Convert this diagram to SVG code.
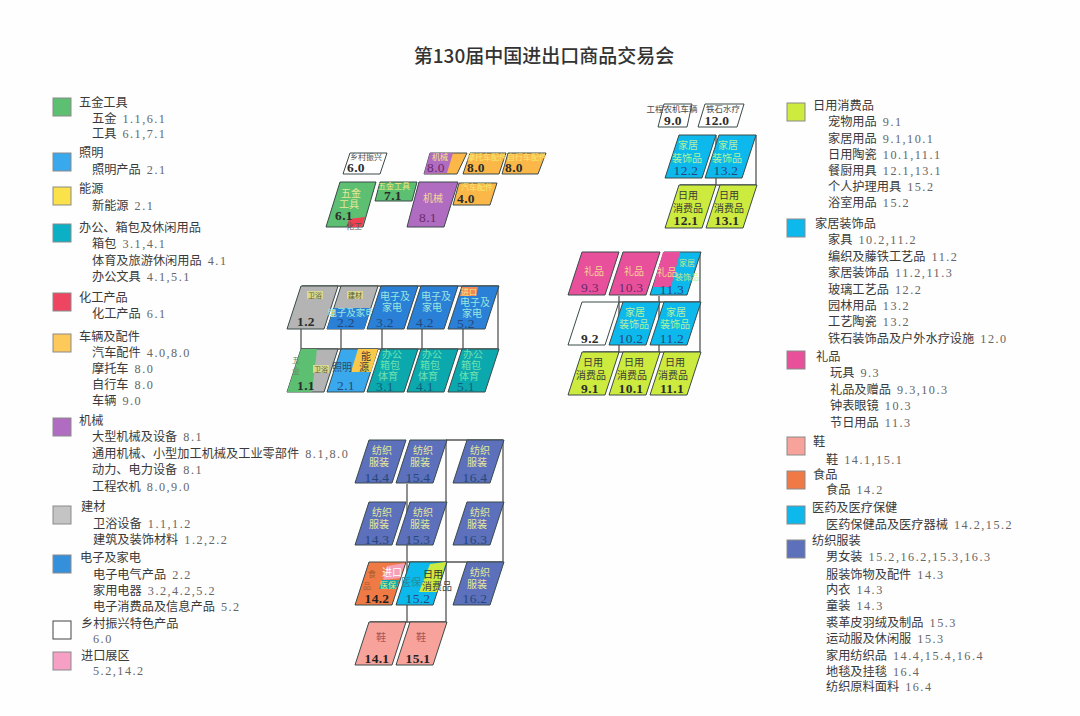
<svg xmlns="http://www.w3.org/2000/svg" width="1080" height="716" viewBox="0 0 1080 716">
<style>
text{font-family:"Liberation Serif","Noto Sans CJK SC",serif;fill:#3c3c3c}
.t{font-size:12.2px;fill:#3a3a3a;word-spacing:3px}
.t tspan{letter-spacing:1.5px;fill:#666}
.h{font-size:12.2px;fill:#3a3a3a}
.n{font-size:13.5px;font-weight:700;text-anchor:middle;fill:#2c2c2c;letter-spacing:.3px}
.b{font-weight:400;fill:#24487a}
.bt{font-weight:400;fill:#0e5f7c}
.bp{font-weight:400;fill:#6a2a6c}
.l{font-size:10px;text-anchor:middle;font-family:"Noto Sans CJK SC",sans-serif;fill:#e4ea98}
.lb{fill:#9be6e0}
.lt{fill:#6fe2ae}
.lc{fill:#b4f0a0}
.s{font-size:8px;text-anchor:middle;font-family:"Noto Sans CJK SC",sans-serif;fill:#f5e878}
.k{font-size:10px;text-anchor:middle;font-family:"Noto Sans CJK SC",sans-serif;fill:#3a3a3a}
.m{font-size:8.5px;text-anchor:middle;font-family:"Noto Sans CJK SC",sans-serif;fill:#4a4a4a}
.c7{font-size:7px;text-anchor:middle;font-family:"Noto Sans CJK SC",sans-serif;fill:#5a5a30}
.sw{stroke:#8a8a8a;stroke-width:1}
.p{stroke:#3a4a4a;stroke-width:1}
.c{fill:none;stroke:#555;stroke-width:1.3}
.green{fill:#5cbf72}.gray{fill:#b4b4b4}.blue{fill:#2a7fd6}.teal{fill:#0ba8ae}.lblue{fill:#3aa8ec}.pur{fill:#b06cc0}.org{fill:#fbb848}.wht{fill:#fff}.cyan{fill:#0cb8ec}.pink{fill:#e8509c}.lime{fill:#cdea3f}.tex{fill:#5d70bb}.sal{fill:#f7a39b}.dor{fill:#f07a45}
</style>
<defs>
<polygon id="pg" points="14,0 51,0 37,43 0,43"/>
</defs>
<rect width="1080" height="716" fill="#fefefe"/>
<text x="544" y="63" font-size="19" text-anchor="middle" font-weight="500" style="font-family:'Noto Sans CJK SC',sans-serif;fill:#333">第130届中国进出口商品交易会</text>

<g id="legend-left">
<g id="leg-wujin"><rect x="53" y="98" width="18" height="18" class="green sw"/><text x="79" y="107" class="h">五金工具</text><text x="92" y="123" class="t">五金 <tspan>1.1,6.1</tspan></text><text x="92" y="138" class="t">工具 <tspan>6.1,7.1</tspan></text></g>
<g id="leg-zhaoming"><rect x="53" y="153" width="18" height="18" class="lblue sw"/><text x="79" y="157" class="h">照明</text><text x="92" y="174" class="t">照明产品 <tspan>2.1</tspan></text></g>
<g id="leg-nengyuan"><rect x="53" y="187" width="18" height="18" fill="#fbe14a" class="sw"/><text x="79" y="193" class="h">能源</text><text x="92" y="210" class="t">新能源 <tspan>2.1</tspan></text></g>
<g id="leg-bangong"><rect x="53" y="224" width="18" height="18" class="sw" fill="#0bb0c4"/><text x="79" y="232" class="h">办公、箱包及休闲用品</text><text x="92" y="248" class="t">箱包 <tspan>3.1,4.1</tspan></text><text x="92" y="265" class="t">体育及旅游休闲用品 <tspan>4.1</tspan></text><text x="92" y="281" class="t">办公文具 <tspan>4.1,5.1</tspan></text></g>
<g id="leg-huagong"><rect x="53" y="293" width="18" height="18" class="sw" fill="#ee4560"/><text x="79" y="302" class="h">化工产品</text><text x="92" y="318" class="t">化工产品 <tspan>6.1</tspan></text></g>
<g id="leg-cheliang"><rect x="53" y="334" width="18" height="18" class="sw" fill="#fdc95a"/><text x="79" y="341" class="h">车辆及配件</text><text x="92" y="357" class="t">汽车配件 <tspan>4.0,8.0</tspan></text><text x="92" y="373" class="t">摩托车 <tspan>8.0</tspan></text><text x="92" y="389" class="t">自行车 <tspan>8.0</tspan></text><text x="92" y="405" class="t">车辆 <tspan>9.0</tspan></text></g>
<g id="leg-jixie"><rect x="53" y="418" width="18" height="18" class="pur sw"/><text x="79" y="425" class="h">机械</text><text x="92" y="441" class="t">大型机械及设备 <tspan>8.1</tspan></text><text x="92" y="458" class="t">通用机械、小型加工机械及工业零部件 <tspan>8.1,8.0</tspan></text><text x="92" y="474" class="t">动力、电力设备 <tspan>8.1</tspan></text><text x="92" y="491" class="t">工程农机 <tspan>8.0,9.0</tspan></text></g>
<g id="leg-jiancai"><rect x="53" y="506" width="18" height="18" fill="#c4c4c4" class="sw"/><text x="81" y="511" class="h">建材</text><text x="93" y="528" class="t">卫浴设备 <tspan>1.1,1.2</tspan></text><text x="93" y="544" class="t">建筑及装饰材料 <tspan>1.2,2.2</tspan></text></g>
<g id="leg-dianzi"><rect x="53" y="555" width="18" height="18" class="sw" fill="#3590dc"/><text x="80" y="562" class="h">电子及家电</text><text x="93" y="579" class="t">电子电气产品 <tspan>2.2</tspan></text><text x="93" y="595" class="t">家用电器 <tspan>3.2,4.2,5.2</tspan></text><text x="93" y="611" class="t">电子消费品及信息产品 <tspan>5.2</tspan></text></g>
<g id="leg-xiangcun"><rect x="53" y="621" width="18" height="18" fill="#fff" stroke="#444"/><text x="81" y="628" class="h">乡村振兴特色产品</text><text x="93" y="643" class="t"><tspan>6.0</tspan></text></g>
<g id="leg-jinkou"><rect x="53" y="652" width="18" height="18" class="sw" fill="#f5a0c4"/><text x="81" y="660" class="h">进口展区</text><text x="93" y="675" class="t"><tspan>5.2,14.2</tspan></text></g>
</g>

<g id="legend-right">
<g id="leg-riyong"><rect x="787" y="103" width="18" height="18" class="lime sw"/><text x="813" y="110" class="h">日用消费品</text><text x="828" y="126" class="t">宠物用品 <tspan>9.1</tspan></text><text x="828" y="143" class="t">家居用品 <tspan>9.1,10.1</tspan></text><text x="828" y="159" class="t">日用陶瓷 <tspan>10.1,11.1</tspan></text><text x="828" y="175" class="t">餐厨用具 <tspan>12.1,13.1</tspan></text><text x="828" y="191" class="t">个人护理用具 <tspan>15.2</tspan></text><text x="828" y="207" class="t">浴室用品 <tspan>15.2</tspan></text></g>
<g id="leg-jiaju"><rect x="787" y="219" width="18" height="18" class="cyan sw"/><text x="815" y="228" class="h">家居装饰品</text><text x="828" y="244" class="t">家具 <tspan>10.2,11.2</tspan></text><text x="828" y="261" class="t">编织及藤铁工艺品 <tspan>11.2</tspan></text><text x="828" y="277" class="t">家居装饰品 <tspan>11.2,11.3</tspan></text><text x="828" y="294" class="t">玻璃工艺品 <tspan>12.2</tspan></text><text x="828" y="310" class="t">园林用品 <tspan>13.2</tspan></text><text x="828" y="326" class="t">工艺陶瓷 <tspan>13.2</tspan></text><text x="828" y="343" class="t">铁石装饰品及户外水疗设施 <tspan>12.0</tspan></text></g>
<g id="leg-lipin"><rect x="787" y="351" width="18" height="18" class="pink sw"/><text x="816" y="361" class="h">礼品</text><text x="830" y="377" class="t">玩具 <tspan>9.3</tspan></text><text x="830" y="394" class="t">礼品及赠品 <tspan>9.3,10.3</tspan></text><text x="830" y="410" class="t">钟表眼镜 <tspan>10.3</tspan></text><text x="830" y="427" class="t">节日用品 <tspan>11.3</tspan></text></g>
<g id="leg-xie"><rect x="787" y="437" width="18" height="18" class="sal sw"/><text x="813" y="446" class="h">鞋</text><text x="826" y="464" class="t">鞋 <tspan>14.1,15.1</tspan></text></g>
<g id="leg-shipin"><rect x="787" y="471" width="18" height="18" class="dor sw"/><text x="813" y="479" class="h">食品</text><text x="826" y="494" class="t">食品 <tspan>14.2</tspan></text></g>
<g id="leg-yiyao"><rect x="787" y="506" width="18" height="18" class="cyan sw"/><text x="812" y="512" class="h">医药及医疗保健</text><text x="826" y="529" class="t">医药保健品及医疗器械 <tspan>14.2,15.2</tspan></text></g>
<g id="leg-fangzhi"><rect x="787" y="540" width="18" height="18" class="tex sw"/><text x="812" y="545" class="h">纺织服装</text><text x="826" y="561" class="t">男女装 <tspan>15.2,16.2,15.3,16.3</tspan></text><text x="826" y="579" class="t">服装饰物及配件 <tspan>14.3</tspan></text><text x="826" y="594" class="t">内衣 <tspan>14.3</tspan></text><text x="826" y="610" class="t">童装 <tspan>14.3</tspan></text><text x="826" y="627" class="t">裘革皮羽绒及制品 <tspan>15.3</tspan></text><text x="826" y="643" class="t">运动服及休闲服 <tspan>15.3</tspan></text><text x="826" y="660" class="t">家用纺织品 <tspan>14.4,15.4,16.4</tspan></text><text x="826" y="676" class="t">地毯及挂毯 <tspan>16.4</tspan></text><text x="826" y="691" class="t">纺织原料面料 <tspan>16.4</tspan></text></g>
</g>

<g id="connectors" class="c">
<path d="M302 286H498V349M301 329V349M341 329V349M382 329V349M422 329V349M463 329V349M301 349H498"/>
<path d="M407 484V622M446 440V622M503 440V562M446 440H503M407 562H503M370 622H446"/>
<path d="M619 296V352M659 296V352M700 252V352M619 302H700M583 352H700"/>
<path d="M716 135V185M756 135V185M680 185H756"/>
</g>

<g id="node-6-0"><polygon points="350,153 387,153 380,174 343,174" class="wht p"/><text x="366" y="160" class="m" style="font-size:8px">乡村振兴</text><text x="356" y="172" class="n">6.0</text></g>
<g id="node-8-0a"><polygon points="430,153 467,153 457,174 424,174" class="org p"/><polygon points="430,153 453,153 447,173 424,174" class="pur"/><text x="440" y="160" class="s">机械</text><text x="436" y="172" class="n bp">8.0</text></g>
<g id="node-8-0b"><polygon points="470,153 506,153 499,174 463,174" class="org p"/><text x="487" y="160" class="s">摩托车配件</text><text x="476" y="172" class="n">8.0</text></g>
<g id="node-8-0c"><polygon points="508,153 546,153 538,174 502,174" class="org p"/><text x="527" y="160" class="s">自行车配件</text><text x="514" y="172" class="n">8.0</text></g>
<g id="node-6-1"><polygon points="340,182 376,182 363,227 326,227" class="green p"/><polygon points="349,219 365,217 362,227 347,227" fill="#ee4050"/><text x="351" y="197" class="l">五金</text><text x="349" y="208" class="l">工具</text><text x="344" y="220" class="n">6.1</text><text x="354" y="229" class="s" style="fill:#555">化工</text></g>
<g id="node-7-1"><polygon points="380,182 417,182 412,201 375,201" class="green p"/><text x="394" y="189" class="s">五金工具</text><text x="393" y="200" class="n">7.1</text></g>
<g id="node-8-1"><polygon points="419,182 458,182 444,227 407,227" class="pur p"/><text x="433" y="202" class="l" style="fill:#f3d89a">机械</text><text x="428" y="222" class="n bp">8.1</text></g>
<g id="node-4-0"><polygon points="459,183 497,183 490,205 453,205" class="org p"/><text x="477" y="190" class="s">汽车配件</text><text x="466" y="203" class="n">4.0</text></g>

<g id="node-1-2"><use href="#pg" x="287" y="286" class="gray p"/><rect x="307" y="291" width="16" height="8" fill="#d8d890"/><text x="315" y="298" class="c7">卫浴</text><text x="306" y="326" class="n">1.2</text></g>
<g id="node-2-2"><use href="#pg" x="327" y="286" class="gray p"/><polygon points="334,308 371,308 364,329 327,329" class="blue"/><rect x="347" y="291" width="16" height="8" fill="#d8d890"/><text x="355" y="298" class="c7">建材</text><polygon points="332,310 335,310 334,317 331,317" class="org"/><text x="351" y="316" class="l lb" style="font-size:9.5px">电子及家电</text><text x="346" y="327" class="n b">2.2</text></g>
<g id="node-3-2"><use href="#pg" x="367" y="286" class="blue p"/><text x="395" y="300" class="l lb">电子及</text><text x="392" y="311" class="l lb">家电</text><text x="385" y="327" class="n b">3.2</text></g>
<g id="node-4-2"><use href="#pg" x="407" y="286" class="blue p"/><text x="436" y="300" class="l lb">电子及</text><text x="432" y="311" class="l lb">家电</text><text x="425" y="327" class="n b">4.2</text></g>
<g id="node-5-2"><use href="#pg" x="448" y="286" class="blue p"/><polygon points="462,287 478,287 476,296 460,296" fill="#f08858"/><text x="469" y="295" class="s">进口</text><text x="475" y="306" class="l lb">电子及</text><text x="472" y="317" class="l lb">家电</text><text x="466" y="328" class="n b">5.2</text></g>
<g id="node-1-1"><use href="#pg" x="287" y="349" class="gray p"/><polygon points="301,349 317,349 312,392 287,392" class="green"/><rect x="313" y="365" width="16" height="8" fill="#d8d890"/><text x="321" y="372" class="c7">卫浴</text><text x="296" y="363" class="s" style="fill:#6a8a6a">五</text><text x="296" y="374" class="s" style="fill:#6a8a6a">金</text><text x="306" y="390" class="n">1.1</text></g>
<g id="node-2-1"><use href="#pg" x="327" y="349" class="lblue p"/><polygon points="358,349 378,349 371,372 351,372" fill="#fbc94a"/><text x="342" y="371" class="l" style="fill:#2a4a6a">照明</text><text x="366" y="360" class="k">能</text><text x="364" y="371" class="k">源</text><text x="346" y="390" class="n b">2.1</text></g>
<g id="node-3-1"><use href="#pg" x="367" y="349" class="teal p"/><text x="392" y="358" class="l lt">办公</text><text x="390" y="369" class="l lt">箱包</text><text x="388" y="380" class="l lt">体育</text><text x="385" y="391" class="n bt">3.1</text></g>
<g id="node-4-1"><use href="#pg" x="407" y="349" class="teal p"/><text x="432" y="358" class="l lt">办公</text><text x="430" y="369" class="l lt">箱包</text><text x="428" y="380" class="l lt">体育</text><text x="425" y="391" class="n bt">4.1</text></g>
<g id="node-5-1"><use href="#pg" x="448" y="349" class="teal p"/><text x="473" y="358" class="l lt">办公</text><text x="471" y="369" class="l lt">箱包</text><text x="469" y="380" class="l lt">体育</text><text x="466" y="391" class="n bt">5.1</text></g>

<g id="node-14-4"><use href="#pg" x="355" y="440" class="tex p"/><text x="382" y="454" class="l">纺织</text><text x="379" y="466" class="l">服装</text><text x="377" y="482" class="n b">14.4</text></g>
<g id="node-15-4"><use href="#pg" x="396" y="440" class="tex p"/><text x="423" y="454" class="l">纺织</text><text x="420" y="466" class="l">服装</text><text x="418" y="482" class="n b">15.4</text></g>
<g id="node-16-4"><use href="#pg" x="453" y="440" class="tex p"/><text x="480" y="454" class="l">纺织</text><text x="477" y="466" class="l">服装</text><text x="475" y="482" class="n b">16.4</text></g>
<g id="node-14-3"><use href="#pg" x="355" y="502" class="tex p"/><text x="382" y="516" class="l">纺织</text><text x="379" y="528" class="l">服装</text><text x="377" y="544" class="n b">14.3</text></g>
<g id="node-15-3"><use href="#pg" x="396" y="502" class="tex p"/><text x="423" y="516" class="l">纺织</text><text x="420" y="528" class="l">服装</text><text x="418" y="544" class="n b">15.3</text></g>
<g id="node-16-3"><use href="#pg" x="453" y="502" class="tex p"/><text x="480" y="516" class="l">纺织</text><text x="477" y="528" class="l">服装</text><text x="475" y="544" class="n b">16.3</text></g>
<g id="node-14-2"><use href="#pg" x="355" y="562" class="dor p"/><polygon points="387,566 405,563 400,578 383,580" fill="#f5a0b8"/><polygon points="382,580 399,580 396,589 379,589" class="teal"/><text x="392" y="576" class="l" style="fill:#fff">进口</text><text x="388" y="588" class="s">医保</text><text x="372" y="577" class="s" style="fill:#a85a2a">食</text><text x="367" y="589" class="s" style="fill:#a85a2a">品</text><text x="377" y="603" class="n" style="fill:#222">14.2</text></g>
<g id="node-15-2"><use href="#pg" x="396" y="562" class="cyan p"/><polygon points="430,564 446,562 437,592 419,592" class="lime"/><text x="411" y="586" class="l" style="fill:#2a8a9a">医保</text><text x="433" y="578" class="l" style="fill:#333">日用</text><text x="437" y="590" class="l" style="fill:#444">消费品</text><text x="418" y="603" class="n b">15.2</text></g>
<g id="node-16-2"><use href="#pg" x="453" y="562" class="tex p"/><text x="480" y="576" class="l">纺织</text><text x="477" y="588" class="l">服装</text><text x="475" y="603" class="n b">16.2</text></g>
<g id="node-14-1"><use href="#pg" x="355" y="622" class="sal p"/><text x="381" y="641" class="k" style="fill:#a55">鞋</text><text x="377" y="663" class="n" style="fill:#222">14.1</text></g>
<g id="node-15-1"><use href="#pg" x="396" y="622" class="sal p"/><text x="421" y="641" class="k" style="fill:#a55">鞋</text><text x="418" y="663" class="n" style="fill:#222">15.1</text></g>

<g id="node-9-3"><use href="#pg" x="568" y="252" class="pink p"/><text x="594" y="275" class="l" style="fill:#f5d590">礼品</text><text x="590" y="292" class="n bp">9.3</text></g>
<g id="node-10-3"><use href="#pg" x="609" y="252" class="pink p"/><text x="634" y="275" class="l" style="fill:#f5d590">礼品</text><text x="631" y="292" class="n bp">10.3</text></g>
<g id="node-11-3"><use href="#pg" x="650" y="252" class="cyan p"/><polygon points="663,252 680,252 671,287 653,287" class="pink"/><text x="667" y="276" class="l" style="fill:#f5d590">礼品</text><text x="687" y="266" class="s" style="fill:#c8ee80">家居</text><text x="687" y="280" class="s" style="fill:#c8ee80">装饰品</text><text x="672" y="294" class="n b">11.3</text></g>
<g id="node-9-2"><use href="#pg" x="568" y="302" class="wht p"/><text x="590" y="343" class="n">9.2</text></g>
<g id="node-10-2"><use href="#pg" x="609" y="302" class="cyan p"/><text x="635" y="316" class="l lc">家居</text><text x="634" y="328" class="l lc">装饰品</text><text x="631" y="343" class="n b">10.2</text></g>
<g id="node-11-2"><use href="#pg" x="650" y="302" class="cyan p"/><text x="676" y="316" class="l lc">家居</text><text x="675" y="328" class="l lc">装饰品</text><text x="672" y="343" class="n b">11.2</text></g>
<g id="node-9-1"><use href="#pg" x="568" y="352" class="lime p"/><text x="593" y="366" class="k">日用</text><text x="591" y="379" class="k">消费品</text><text x="590" y="393" class="n">9.1</text></g>
<g id="node-10-1"><use href="#pg" x="609" y="352" class="lime p"/><text x="634" y="366" class="k">日用</text><text x="632" y="379" class="k">消费品</text><text x="631" y="393" class="n">10.1</text></g>
<g id="node-11-1"><use href="#pg" x="650" y="352" class="lime p"/><text x="675" y="366" class="k">日用</text><text x="673" y="379" class="k">消费品</text><text x="672" y="393" class="n">11.1</text></g>

<g id="node-9-0"><polygon points="664,104 692,104 687,127 658,127" class="wht p"/><text x="672" y="112" class="m">工程农机车辆</text><text x="673" y="125" class="n">9.0</text></g>
<g id="node-12-0"><polygon points="705,104 744,104 737,127 698,127" class="wht p"/><text x="723" y="112" class="m">铁石水疗</text><text x="717" y="125" class="n">12.0</text></g>
<g id="node-12-2"><use href="#pg" x="665" y="135" class="cyan p"/><text x="688" y="149" class="l lc">家居</text><text x="687" y="162" class="l lc">装饰品</text><text x="686" y="175" class="n b">12.2</text></g>
<g id="node-13-2"><use href="#pg" x="705" y="135" class="cyan p"/><text x="728" y="149" class="l lc">家居</text><text x="727" y="162" class="l lc">装饰品</text><text x="726" y="175" class="n b">13.2</text></g>
<g id="node-12-1"><use href="#pg" x="665" y="185" class="lime p"/><text x="688" y="199" class="k">日用</text><text x="688" y="212" class="k">消费品</text><text x="686" y="225" class="n">12.1</text></g>
<g id="node-13-1"><use href="#pg" x="706" y="185" class="lime p"/><text x="729" y="199" class="k">日用</text><text x="729" y="212" class="k">消费品</text><text x="727" y="225" class="n">13.1</text></g>
</svg>
